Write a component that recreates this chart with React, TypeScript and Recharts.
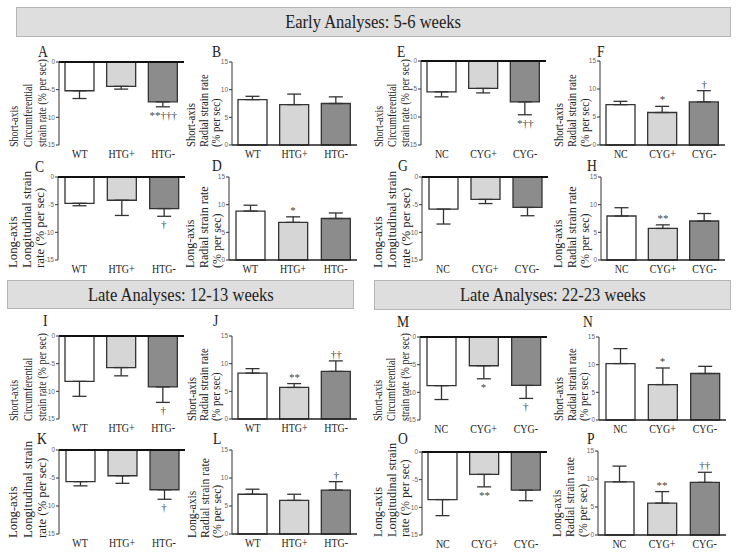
import React from 'react';
import { ComposedChart, Bar, XAxis, YAxis, ErrorBar, Line, LabelList, Cell } from 'recharts';

// ---------- DATA ----------
const htgGroups = ['WT', 'HTG+', 'HTG-'];
const cygGroups = ['NC', 'CYG+', 'CYG-'];
const negTicks = [-15, -10, -5, 0];
const posTicks = [0, 5, 10, 15];

const bannerTitles = ['Early Analyses: 5-6 weeks', 'Late Analyses: 12-13 weeks', 'Late Analyses: 22-23 weeks'];

const labelShortCirc = ['Short-axis', 'Circumferential', 'strain rate (% per sec)'];
const labelShortRad = ['Short-axis', 'Radial strain rate', '(% per sec)'];
const labelLongLong = ['Long-axis', 'Longitudinal strain', 'rate (% per sec)'];
const labelLongRad = ['Long-axis', 'Radial strain rate', '(% per sec)'];

const aMeans = [-5.2, -4.4, -7.2]; const aErrs = [1.4, 0.5, 0.9]; const aSig = ['', '', '**†††'];
const bMeans = [8.2, 7.3, 7.5]; const bErrs = [0.6, 1.9, 1.2]; const bSig = ['', '', ''];
const cMeans = [-4.75, -4.2, -5.7]; const cErrs = [0.45, 2.75, 1.4]; const cSig = ['', '', '†'];
const dMeans = [8.85, 6.8, 7.5]; const dErrs = [1.05, 1.0, 1.0]; const dSig = ['', '*', ''];
const eMeans = [-5.5, -4.9, -7.3]; const eErrs = [0.9, 0.8, 2.3]; const eSig = ['', '', '*††'];
const fMeans = [7.2, 5.8, 7.7]; const fErrs = [0.6, 1.1, 2.0]; const fSig = ['', '*', '†'];
const gMeans = [-5.8, -4.05, -5.5]; const gErrs = [2.7, 0.75, 1.5]; const gSig = ['', '', ''];
const hMeans = [7.95, 5.7, 7.05]; const hErrs = [1.5, 0.65, 1.35]; const hSig = ['', '**', ''];
const iMeans = [-8.2, -5.7, -9.2]; const iErrs = [2.7, 1.5, 2.8]; const iSig = ['', '', '†'];
const jMeans = [8.3, 5.7, 8.6]; const jErrs = [0.8, 0.7, 1.9]; const jSig = ['', '**', '††'];
const kMeans = [-5.65, -4.6, -7.1]; const kErrs = [0.75, 1.35, 1.7]; const kSig = ['', '', '†'];
const lMeans = [7.1, 6.0, 7.85]; const lErrs = [0.9, 1.1, 1.5]; const lSig = ['', '', '†'];
const mMeans = [-8.8, -5.2, -8.75]; const mErrs = [2.5, 2.35, 2.35]; const mSig = ['', '*', '†'];
const nMeans = [10.2, 6.4, 8.4]; const nErrs = [2.7, 3.0, 1.3]; const nSig = ['', '*', ''];
const oMeans = [-8.6, -4.05, -6.9]; const oErrs = [2.9, 2.25, 1.9]; const oSig = ['', '**', ''];
const pMeans = [9.5, 5.7, 9.4]; const pErrs = [2.8, 2.05, 1.8]; const pSig = ['', '**', '††'];

// ---------- STYLE / LAYOUT ----------
const SERIF = '"Liberation Serif", "Times New Roman", serif';
const SANS = '"Liberation Sans", Arial, sans-serif';
const fills = ['#ffffff', '#d6d6d6', '#8c8c8c'];

type PanelCfg = {
  id: string; cats: string[]; means: number[]; errs: number[]; sig: string[]; neg: boolean;
  plot: [number, number, number, number];
  label: string[]; lab: [number, number, number]; labScale: number; letter: [number, number];
};

const panels: PanelCfg[] = [
  { id: 'A', cats: htgGroups, means: aMeans, errs: aErrs, sig: aSig, neg: true, plot: [59, 62, 184, 145], label: labelShortCirc, lab: [14, 14, 147], labScale: 0.77, letter: [38, 57] },
  { id: 'B', cats: htgGroups, means: bMeans, errs: bErrs, sig: bSig, neg: false, plot: [232, 62, 357, 145], label: labelShortRad, lab: [191, 12.5, 147], labScale: 0.82, letter: [212, 57] },
  { id: 'C', cats: htgGroups, means: cMeans, errs: cErrs, sig: cSig, neg: true, plot: [58, 177, 185, 260], label: labelLongLong, lab: [13, 13.5, 268], labScale: 0.98, letter: [35, 172] },
  { id: 'D', cats: htgGroups, means: dMeans, errs: dErrs, sig: dSig, neg: false, plot: [229, 177, 357, 260], label: labelLongRad, lab: [190, 13.5, 268], labScale: 0.92, letter: [212, 171] },
  { id: 'E', cats: cygGroups, means: eMeans, errs: eErrs, sig: eSig, neg: true, plot: [421, 61, 546, 145], label: labelShortCirc, lab: [379, 13, 147], labScale: 0.77, letter: [397, 57] },
  { id: 'F', cats: cygGroups, means: fMeans, errs: fErrs, sig: fSig, neg: false, plot: [600, 61, 725, 145], label: labelShortRad, lab: [559, 13, 147], labScale: 0.82, letter: [597, 57] },
  { id: 'G', cats: cygGroups, means: gMeans, errs: gErrs, sig: gSig, neg: true, plot: [422, 177, 548, 260], label: labelLongLong, lab: [378, 14, 268], labScale: 0.98, letter: [398, 171] },
  { id: 'H', cats: cygGroups, means: hMeans, errs: hErrs, sig: hSig, neg: false, plot: [601, 177, 725, 260], label: labelLongRad, lab: [558, 13.5, 268], labScale: 0.92, letter: [587, 171] },
  { id: 'I', cats: htgGroups, means: iMeans, errs: iErrs, sig: iSig, neg: true, plot: [59, 336, 184, 419], label: labelShortCirc, lab: [14, 14, 421], labScale: 0.77, letter: [43, 326] },
  { id: 'J', cats: htgGroups, means: jMeans, errs: jErrs, sig: jSig, neg: false, plot: [232, 336, 357, 419], label: labelShortRad, lab: [192, 12, 421], labScale: 0.82, letter: [213, 326] },
  { id: 'K', cats: htgGroups, means: kMeans, errs: kErrs, sig: kSig, neg: true, plot: [59, 450, 185, 534], label: labelLongLong, lab: [13, 14.5, 538], labScale: 0.98, letter: [37, 444] },
  { id: 'L', cats: htgGroups, means: lMeans, errs: lErrs, sig: lSig, neg: false, plot: [232, 450, 357, 534], label: labelLongRad, lab: [192, 12.5, 538], labScale: 0.9, letter: [213, 444] },
  { id: 'M', cats: cygGroups, means: mMeans, errs: mErrs, sig: mSig, neg: true, plot: [420, 337, 547, 420], label: labelShortCirc, lab: [378, 13.5, 421], labScale: 0.77, letter: [397, 327] },
  { id: 'N', cats: cygGroups, means: nMeans, errs: nErrs, sig: nSig, neg: false, plot: [599, 337, 726, 420], label: labelShortRad, lab: [559, 12.5, 421], labScale: 0.82, letter: [583, 327] },
  { id: 'O', cats: cygGroups, means: oMeans, errs: oErrs, sig: oSig, neg: true, plot: [422, 452, 547, 535], label: labelLongLong, lab: [378, 13.5, 537], labScale: 0.95, letter: [398, 444] },
  { id: 'P', cats: cygGroups, means: pMeans, errs: pErrs, sig: pSig, neg: false, plot: [598, 451, 726, 535], label: labelLongRad, lab: [557, 13, 537], labScale: 0.9, letter: [587, 444] },
];

const banners = [
  { title: bannerTitles[0], x0: 16, y0: 7, x1: 731, y1: 37 },
  { title: bannerTitles[1], x0: 7, y0: 280, x1: 354, y1: 309 },
  { title: bannerTitles[2], x0: 374, y0: 280, x1: 731, y1: 310 },
];

// ---------- COMPONENTS ----------
const CatTick = (props: any) => {
  const { x, y, payload } = props;
  return (
    <g transform={`translate(${x},${y + 13}) scale(0.8,1)`}>
      <text x={0} y={0} textAnchor="middle" fontSize={12.5} fill="#222" fontFamily={SERIF}>
        {payload.value}
      </text>
    </g>
  );
};

function Panel({ cfg }: { cfg: PanelCfg }) {
  const [x0, y0, x1, y1] = cfg.plot;
  const W = x1 - x0 + 40;
  const H = y1 - y0 + 10 + 25;
  const neg = cfg.neg;
  const data = cfg.cats.map((c, i) => ({
    cat: c,
    v: cfg.means[i],
    err: neg ? [cfg.errs[i], 0] : [0, cfg.errs[i]],
    sig: cfg.sig[i],
    annoPos: neg ? cfg.means[i] - cfg.errs[i] : cfg.means[i] + cfg.errs[i],
  }));
  const renderSig = (p: any) => {
    const { x, y, value } = p;
    if (!value) return null;
    return (
      <text x={x} y={neg ? y + 12 : y - 3} textAnchor="middle" fontSize={11} fill="#444" fontFamily={SERIF}>
        {value}
      </text>
    );
  };
  return (
    <div style={{ position: 'absolute', left: x0 - 30, top: y0 - 10, width: W, height: H }}>
      <ComposedChart width={W} height={H} data={data} margin={{ top: neg ? 8 : 10, right: 10, bottom: 0, left: 0 }}>
        {neg && (
          <XAxis xAxisId="top" orientation="top" dataKey="cat" height={2} tick={false} tickLine={false}
            axisLine={{ stroke: '#111', strokeWidth: 2 }} />
        )}
        <XAxis xAxisId="b" dataKey="cat" height={25} tickSize={0} tickMargin={0} tickLine={false} interval={0}
          axisLine={neg ? false : { stroke: '#222', strokeWidth: 1.5 }} tick={CatTick} />
        <YAxis width={30} type="number" domain={neg ? [-15, 0] : [0, 15]} ticks={neg ? negTicks : posTicks}
          interval={0} tickSize={3} tickMargin={1} axisLine={{ stroke: '#333', strokeWidth: 1 }}
          tickLine={{ stroke: '#333' }} tick={{ fontSize: 6.5, fill: '#666', fontFamily: SANS }} />
        <Bar xAxisId="b" dataKey="v" barSize={29} stroke="#333" strokeWidth={1.3} isAnimationActive={false}>
          {data.map((d, i) => (
            <Cell key={i} fill={fills[i]} />
          ))}
          <ErrorBar dataKey="err" width={7} stroke="#333" strokeWidth={1.3} direction="y" isAnimationActive={false} />
        </Bar>
        <Line xAxisId="b" dataKey="annoPos" stroke="none" dot={false} activeDot={false} isAnimationActive={false} legendType="none">
          <LabelList dataKey="sig" content={renderSig} />
        </Line>
      </ComposedChart>
    </div>
  );
}

export default function App() {
  return (
    <div style={{ position: 'absolute', left: 0, top: 0, width: 739, height: 557, background: '#fff', overflow: 'hidden' }}>
      {banners.map((b, i) => (
        <div key={i} style={{
          position: 'absolute', left: b.x0, top: b.y0, width: b.x1 - b.x0, height: b.y1 - b.y0,
          background: '#dedede', border: '1px solid #b5b5b5', boxSizing: 'border-box',
          display: 'flex', alignItems: 'center', justifyContent: 'center',
        }}>
          <span style={{ fontFamily: SERIF, fontSize: 19, color: '#222', transform: 'scaleX(0.87)', whiteSpace: 'nowrap', display: 'inline-block' }}>
            {b.title}
          </span>
        </div>
      ))}
      {panels.map((p) => (
        <Panel key={p.id} cfg={p} />
      ))}
      <svg width={739} height={557} style={{ position: 'absolute', left: 0, top: 0, pointerEvents: 'none' }}>
        {panels.map((p) => (
          <g key={p.id}>
            <g transform={`translate(${p.letter[0]},${p.letter[1]}) scale(0.85,1)`}>
              <text x={0} y={0} fontSize={16} fill="#222" fontFamily={SERIF}>{p.id}</text>
            </g>
            {p.label.map((t, i) => (
              <text key={i}
                transform={`translate(${p.lab[0] + i * p.lab[1]},${p.lab[2]}) rotate(-90) scale(${p.labScale},1)`}
                x={0} y={0} fontSize={13} fill="#222" fontFamily={SERIF} dominantBaseline="central" textAnchor="start">
                {t}
              </text>
            ))}
          </g>
        ))}
      </svg>
    </div>
  );
}
